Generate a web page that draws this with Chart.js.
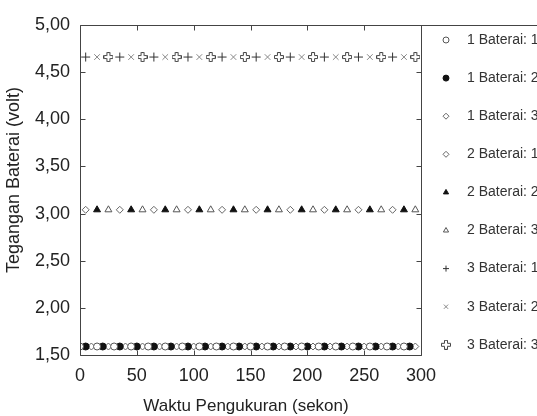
<!DOCTYPE html>
<html>
<head>
<meta charset="utf-8">
<script src="https://cdn.jsdelivr.net/npm/chart.js@4/dist/chart.umd.min.js"></script>
<style>
  html, body { margin: 0; padding: 0; background: #fff; overflow: hidden; }
</style>
</head>
<body>
<canvas id="chart" width="537" height="416"></canvas>
<script>
// measurement times (s)
const waktu1a = [0, 15, 30, 45, 60, 75, 90, 105, 120, 135, 150, 165, 180, 195, 210, 225, 240, 255, 270, 285];
const waktu1b = [5, 20, 35, 50, 65, 80, 95, 110, 125, 140, 155, 170, 185, 200, 215, 230, 245, 260, 275, 290];
const waktu1c = [10, 25, 40, 55, 70, 85, 100, 115, 130, 145, 160, 175, 190, 205, 220, 235, 250, 265, 280, 295];
const waktuA = [5, 35, 65, 95, 125, 155, 185, 215, 245, 275];
const waktuB = [15, 45, 75, 105, 135, 165, 195, 225, 255, 285];
const waktuC = [25, 55, 85, 115, 145, 175, 205, 235, 265, 295];

// battery voltages (volt)
const bat1_1 = [1.59, 1.59, 1.59, 1.59, 1.59, 1.59, 1.59, 1.59, 1.59, 1.59, 1.59, 1.59, 1.59, 1.59, 1.59, 1.59, 1.59, 1.59, 1.59, 1.59];
const bat1_2 = [1.59, 1.59, 1.59, 1.59, 1.59, 1.59, 1.59, 1.59, 1.59, 1.59, 1.59, 1.59, 1.59, 1.59, 1.59, 1.59, 1.59, 1.59, 1.59, 1.59];
const bat1_3 = [1.59, 1.59, 1.59, 1.59, 1.59, 1.59, 1.59, 1.59, 1.59, 1.59, 1.59, 1.59, 1.59, 1.59, 1.59, 1.59, 1.59, 1.59, 1.59, 1.59];
const bat2_1 = [3.04, 3.04, 3.04, 3.04, 3.04, 3.04, 3.04, 3.04, 3.04, 3.04];
const bat2_2 = [3.04, 3.04, 3.04, 3.04, 3.04, 3.04, 3.04, 3.04, 3.04, 3.04];
const bat2_3 = [3.04, 3.04, 3.04, 3.04, 3.04, 3.04, 3.04, 3.04, 3.04, 3.04];
const bat3_1 = [4.66, 4.66, 4.66, 4.66, 4.66, 4.66, 4.66, 4.66, 4.66, 4.66];
const bat3_2 = [4.66, 4.66, 4.66, 4.66, 4.66, 4.66, 4.66, 4.66, 4.66, 4.66];
const bat3_3 = [4.66, 4.66, 4.66, 4.66, 4.66, 4.66, 4.66, 4.66, 4.66, 4.66];

const labels = ["1 Baterai: 1", "1 Baterai: 2", "1 Baterai: 3",
                "2 Baterai: 1", "2 Baterai: 2", "2 Baterai: 3",
                "3 Baterai: 1", "3 Baterai: 2", "3 Baterai: 3"];
const yTicks = [1.5, 2, 2.5, 3, 3.5, 4, 4.5, 5];
const xTicks = [0, 50, 100, 150, 200, 250, 300];
const xTitle = "Waktu Pengukuran (sekon)";
const yTitle = "Tegangan Baterai (volt)";

const FONT = "'Liberation Sans', Arial, sans-serif";

// outlined plus marker for "3 Baterai: 3"
function plusOutline(color) {
  const c = document.createElement("canvas");
  c.width = 10; c.height = 10;
  const g = c.getContext("2d");
  const p = [[3.5,0.5],[6.5,0.5],[6.5,3.5],[9.5,3.5],[9.5,6.5],[6.5,6.5],[6.5,9.5],[3.5,9.5],[3.5,6.5],[0.5,6.5],[0.5,3.5],[3.5,3.5]];
  g.beginPath();
  g.moveTo(p[0][0], p[0][1]);
  for (let i = 1; i < p.length; i++) g.lineTo(p[i][0], p[i][1]);
  g.closePath();
  g.fillStyle = "#fff";
  g.fill();
  g.strokeStyle = color;
  g.lineWidth = 1;
  g.stroke();
  return c;
}
const plusImg = plusOutline("#444");

function pts(xs, ys) {
  return xs.map((x, i) => ({ x: x, y: ys[i] }));
}

const styles = [
  { pointStyle: "circle",   radius: 3.5, bg: "#fff", border: "#555" },
  { pointStyle: "circle",   radius: 3.5, bg: "#111", border: "#111" },
  { pointStyle: "rectRot",  radius: 3.5, bg: "#fff", border: "#666" },
  { pointStyle: "rectRot",  radius: 3.5, bg: "#fff", border: "#666" },
  { pointStyle: "triangle", radius: 4,   bg: "#111", border: "#111" },
  { pointStyle: "triangle", radius: 4,   bg: "#fff", border: "#555" },
  { pointStyle: "cross",    radius: 4.5, bg: "#fff", border: "#333" },
  { pointStyle: "crossRot", radius: 4,   bg: "#fff", border: "#888" },
  { pointStyle: plusImg,    radius: 5,   bg: "#fff", border: "#444" }
];

const series = [
  pts(waktu1a, bat1_1), pts(waktu1b, bat1_2), pts(waktu1c, bat1_3),
  pts(waktuA, bat2_1), pts(waktuB, bat2_2), pts(waktuC, bat2_3),
  pts(waktuA, bat3_1), pts(waktuB, bat3_2), pts(waktuC, bat3_3)
];

const datasets = series.map((d, i) => ({
  label: labels[i],
  data: d,
  showLine: false,
  pointStyle: styles[i].pointStyle,
  pointRadius: styles[i].radius,
  pointBackgroundColor: styles[i].bg,
  pointBorderColor: styles[i].border,
  pointBorderWidth: 1
}));

// frame, inward ticks, axis titles and the boxed legend on the right
const framePlugin = {
  id: "frame",
  afterDraw(chart) {
    const ctx = chart.ctx;
    const a = chart.chartArea;
    const xs = chart.scales.x, ys = chart.scales.y;
    const L = Math.round(a.left) + 0.5, R = Math.round(a.right) + 0.5;
    const T = Math.round(a.top) + 0.5, B = Math.round(a.bottom) + 0.5;
    ctx.save();
    ctx.strokeStyle = "#444";
    ctx.lineWidth = 1;
    ctx.beginPath();
    ctx.moveTo(L, T); ctx.lineTo(chart.width, T);
    ctx.moveTo(L, T); ctx.lineTo(L, B); ctx.lineTo(R, B); ctx.lineTo(R, T);
    xTicks.forEach(v => {
      const px = Math.round(xs.getPixelForValue(v)) + 0.5;
      ctx.moveTo(px, B); ctx.lineTo(px, B - 5);
      ctx.moveTo(px, T); ctx.lineTo(px, T + 5);
    });
    yTicks.forEach(v => {
      const py = Math.round(ys.getPixelForValue(v)) + 0.5;
      ctx.moveTo(L, py); ctx.lineTo(L + 5, py);
      ctx.moveTo(R, py); ctx.lineTo(R - 5, py);
    });
    ctx.stroke();

    // axis titles
    ctx.fillStyle = "#222";
    ctx.textAlign = "center";
    ctx.textBaseline = "middle";
    ctx.font = "17px " + FONT;
    ctx.fillText(xTitle, 246, 406);
    ctx.save();
    ctx.translate(14, 180);
    ctx.rotate(-Math.PI / 2);
    ctx.font = "18px " + FONT;
    ctx.fillText(yTitle, 0, 0);
    ctx.restore();

    // legend entries
    ctx.font = "14px " + FONT;
    ctx.textAlign = "left";
    labels.forEach((t, i) => {
      const y = 40 + i * 38.1;
      const s = styles[i];
      ctx.fillStyle = s.bg;
      ctx.strokeStyle = s.border;
      ctx.lineWidth = 1;
      Chart.helpers.drawPoint(ctx, {
        pointStyle: s.pointStyle,
        radius: s.pointStyle === plusImg ? 5 : 3,
        borderWidth: 1,
        rotation: 0
      }, 446, y);
      ctx.fillStyle = "#333";
      ctx.fillText(t, 467, y);
    });
    ctx.restore();
  }
};

const ctx = document.getElementById("chart").getContext("2d");
new Chart(ctx, {
  type: "scatter",
  data: { datasets: datasets },
  plugins: [framePlugin],
  options: {
    responsive: false,
    animation: false,
    layout: { padding: { top: 25, right: 116, left: 0, bottom: 0 } },
    plugins: {
      legend: { display: false },
      tooltip: { enabled: false }
    },
    scales: {
      x: {
        type: "linear",
        min: 0,
        max: 300,
        afterFit: s => { s.height = 61; },
        afterBuildTicks: s => { s.ticks = xTicks.map(v => ({ value: v })); },
        grid: { display: false, drawTicks: false },
        border: { display: false },
        ticks: {
          padding: 10,
          color: "#222",
          font: { family: FONT, size: 18 },
          maxRotation: 0
        }
      },
      y: {
        type: "linear",
        min: 1.5,
        max: 5,
        afterFit: s => { s.width = 80; },
        afterBuildTicks: s => { s.ticks = yTicks.map(v => ({ value: v })); },
        grid: { display: false, drawTicks: false },
        border: { display: false },
        ticks: {
          padding: 10,
          color: "#222",
          font: { family: FONT, size: 18 },
          callback: v => v.toFixed(2).replace(".", ",")
        }
      }
    }
  }
});
</script>
</body>
</html>
